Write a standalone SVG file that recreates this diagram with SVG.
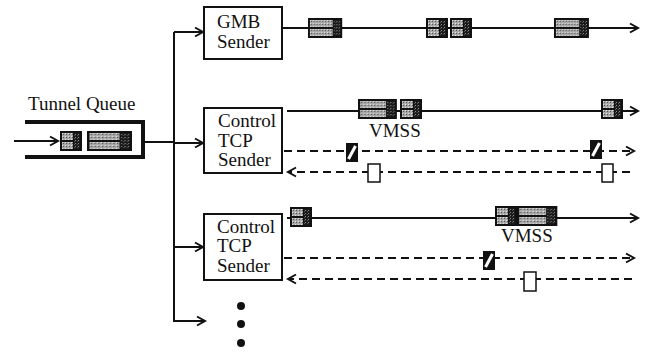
<svg xmlns="http://www.w3.org/2000/svg" xmlns:xlink="http://www.w3.org/1999/xlink" width="647" height="353" viewBox="0 0 647 353">
<style>
text{font-family:"Liberation Serif","Times New Roman",serif;font-size:19px;fill:#111}
.box{fill:#fff;stroke:#111;stroke-width:2}
.ln{stroke:#111;stroke-width:2;fill:none}
.dash{stroke:#111;stroke-width:2;fill:none;stroke-dasharray:8 5}
.ar{marker-end:url(#arr)}
.ack{fill:#fff;stroke:#111;stroke-width:1.5}
</style>
<defs>
<pattern id="lt" width="3" height="3" patternUnits="userSpaceOnUse">
<rect width="3" height="3" fill="#a8a8a8"/><rect width="1" height="1" fill="#555"/><rect x="2" y="2" width="1" height="1" fill="#e2e2e2"/>
</pattern>
<pattern id="dk" width="3" height="3" patternUnits="userSpaceOnUse">
<rect width="3" height="3" fill="#1a1a1a"/><rect width="1" height="1" fill="#8a8a8a"/><rect x="2" y="1" width="1" height="1" fill="#555"/>
</pattern>
<marker id="arr" markerUnits="userSpaceOnUse" markerWidth="12" markerHeight="12" refX="9" refY="5" orient="auto" viewBox="0 0 12 10">
<path d="M1,0.5 L9,5 L1,9.5" fill="none" stroke="#111" stroke-width="2"/>
</marker>
<g id="pS">
<rect width="22" height="20" fill="#111"/>
<rect x="2" y="2" width="11" height="7" fill="url(#lt)"/>
<rect x="2" y="11" width="11" height="7" fill="url(#lt)"/>
<rect x="14" y="2" width="6" height="16" fill="url(#dk)"/>
</g>
<g id="pW">
<rect width="36" height="20" fill="#111"/>
<rect x="2" y="2" width="24" height="7" fill="url(#lt)"/>
<rect x="2" y="11" width="24" height="7" fill="url(#lt)"/>
<rect x="27" y="2" width="7" height="16" fill="url(#dk)"/>
</g>
<g id="pX">
<rect width="12" height="19" fill="#111"/>
<path d="M2.5,16 L9.5,3" stroke="#fff" stroke-width="3"/>
</g>
</defs>

<g id="connectors">
<line class="ln ar" x1="14" y1="141" x2="58" y2="141"/>
<line class="ln" x1="145" y1="142" x2="174" y2="142"/>
<line class="ln" x1="174" y1="32" x2="174" y2="321"/>
<line class="ln ar" x1="174" y1="32" x2="203" y2="32"/>
<line class="ln ar" x1="174" y1="143" x2="203" y2="143"/>
<line class="ln ar" x1="174" y1="247" x2="203" y2="247"/>
<line class="ln ar" x1="173" y1="321" x2="205" y2="321"/>
<line class="ln ar" x1="283" y1="28" x2="638" y2="28"/>
<line class="ln ar" x1="287" y1="111" x2="638" y2="111"/>
<line class="dash ar" x1="284" y1="151" x2="634" y2="151"/>
<line class="dash ar" x1="630" y1="172" x2="288" y2="172"/>
<line class="ln ar" x1="287" y1="218" x2="638" y2="218"/>
<line class="dash ar" x1="284" y1="258" x2="634" y2="258"/>
<line class="dash ar" x1="632" y1="279" x2="288" y2="279"/>
</g>

<g id="tunnel-queue">
<text x="28" y="110">Tunnel Queue</text>
<path d="M25,122 H143 V157 H25" fill="none" stroke="#111" stroke-width="4"/>
<use xlink:href="#pS" x="60" y="131"/>
<use xlink:href="#pW" transform="translate(87,131) scale(1.25,1)"/>
</g>

<g id="gmb-sender">
<rect class="box" x="204" y="7" width="78" height="52"/>
<text x="217" y="28">GMB</text>
<text x="217" y="48">Sender</text>
</g>

<g id="control-tcp-sender-1">
<rect class="box" x="204" y="108" width="78" height="65"/>
<text x="218" y="127">Control</text>
<text x="218" y="147">TCP</text>
<text x="218" y="166">Sender</text>
</g>

<g id="control-tcp-sender-2">
<rect class="box" x="204" y="214" width="78" height="66"/>
<text x="217" y="233">Control</text>
<text x="217" y="252">TCP</text>
<text x="217" y="272">Sender</text>
</g>

<g id="gmb-packets">
<use xlink:href="#pW" transform="translate(308,18) scale(0.95,1)"/>
<use xlink:href="#pS" x="426" y="18"/>
<use xlink:href="#pS" x="450" y="18"/>
<use xlink:href="#pW" transform="translate(554,18) scale(0.97,1)"/>
</g>

<g id="control1-packets">
<use xlink:href="#pW" transform="translate(358,99) scale(1.08,1)"/>
<use xlink:href="#pS" x="400" y="99"/>
<use xlink:href="#pS" x="601" y="99"/>
<text x="369" y="137">VMSS</text>
<use xlink:href="#pX" x="346" y="143"/>
<use xlink:href="#pX" x="590" y="140"/>
<rect class="ack" x="368" y="164" width="12" height="18"/>
<rect class="ack" x="602" y="164" width="11" height="18"/>
</g>

<g id="control2-packets">
<use xlink:href="#pS" x="290" y="207"/>
<use xlink:href="#pS" x="495" y="206"/>
<use xlink:href="#pW" transform="translate(517,206) scale(1.12,1)"/>
<text x="501" y="242">VMSS</text>
<use xlink:href="#pX" x="483" y="251"/>
<rect class="ack" x="524" y="272" width="12" height="19"/>
</g>

<g id="more">
<circle cx="241" cy="306" r="4" fill="#111"/>
<circle cx="241" cy="324" r="4" fill="#111"/>
<circle cx="241" cy="343" r="4" fill="#111"/>
</g>
</svg>
